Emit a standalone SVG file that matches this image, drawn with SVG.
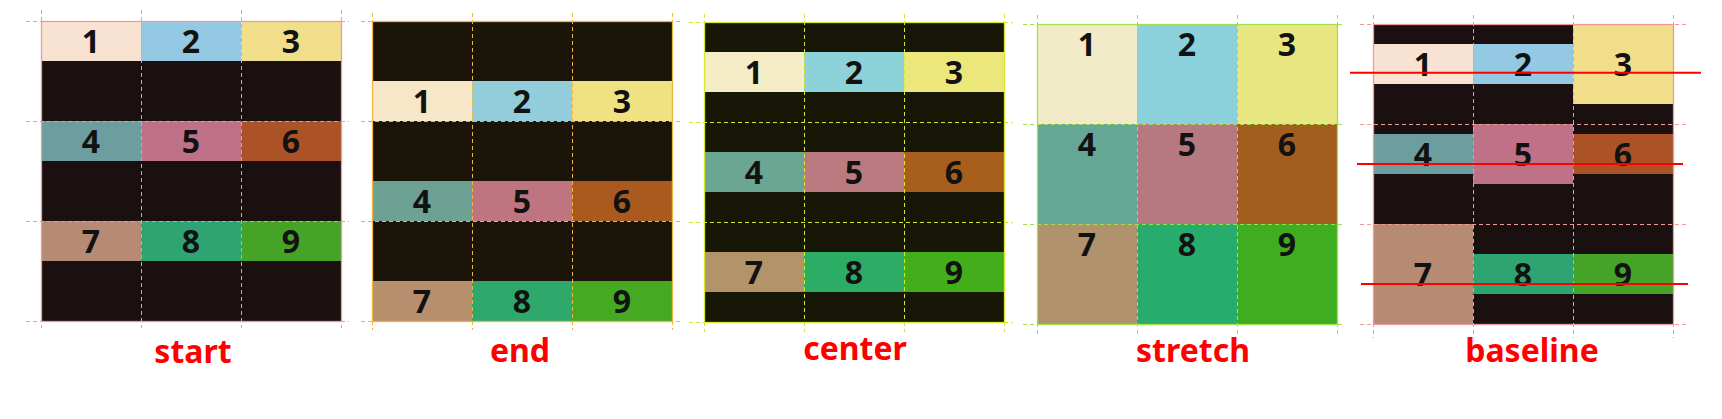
<svg xmlns="http://www.w3.org/2000/svg" width="1722" height="419" viewBox="0 0 1722 419">
<style>
.num{font-family:"Noto Sans","Open Sans","DejaVu Sans",sans-serif;font-weight:700;font-size:32px;fill:#121212;text-anchor:middle}
.lbl{font-family:"Noto Sans","Open Sans","DejaVu Sans",sans-serif;font-weight:700;font-size:32px;fill:#ff0000;text-anchor:middle}
.gl{fill:none;stroke-width:1;stroke-dasharray:4 3}
.bd{fill:none;stroke-width:1.3}
.pink{stroke:#ee9a9a}
.orange{stroke:#f2b440}
.ylw{stroke:#d4e830}
.grn{stroke:#a0e050}
.base{stroke:#ff0000;stroke-width:2}
</style>
<rect width="1722" height="419" fill="#ffffff"/>

<!-- start -->
<g id="panel-start">
<rect x="41" y="21" width="300" height="300" fill="#1a1010"/>
<g id="start-1"><rect x="41" y="21" width="100" height="40" fill="#f8e3d2"/><text class="num" x="91" y="53">1</text></g>
<g id="start-2"><rect x="141" y="21" width="100" height="40" fill="#93c9e3"/><text class="num" x="191" y="53">2</text></g>
<g id="start-3"><rect x="241" y="21" width="100" height="40" fill="#f0de8a"/><text class="num" x="291" y="53">3</text></g>
<g id="start-4"><rect x="41" y="121" width="100" height="40" fill="#6d9e9f"/><text class="num" x="91" y="153">4</text></g>
<g id="start-5"><rect x="141" y="121" width="100" height="40" fill="#bf7188"/><text class="num" x="191" y="153">5</text></g>
<g id="start-6"><rect x="241" y="121" width="100" height="40" fill="#ab5327"/><text class="num" x="291" y="153">6</text></g>
<g id="start-7"><rect x="41" y="221" width="100" height="40" fill="#b78a74"/><text class="num" x="91" y="253">7</text></g>
<g id="start-8"><rect x="141" y="221" width="100" height="40" fill="#2fa473"/><text class="num" x="191" y="253">8</text></g>
<g id="start-9"><rect x="241" y="221" width="100" height="40" fill="#45a327"/><text class="num" x="291" y="253">9</text></g>
<path class="gl pink" d="M26 21.5H349M26 121.5H349M26 221.5H349M26 321.5H349M41.5 10V328M141.5 10V328M241.5 10V328M341.5 10V328"/>
<rect class="bd pink" x="41.5" y="21.5" width="300" height="300"/>
<text class="lbl" x="193" y="363">start</text>
</g>

<!-- end -->
<g id="panel-end">
<rect x="372" y="21" width="300" height="300" fill="#1a1508"/>
<g id="end-1"><rect x="372" y="81" width="100" height="40" fill="#f8e6c9"/><text class="num" x="422" y="113">1</text></g>
<g id="end-2"><rect x="472" y="81" width="100" height="40" fill="#93ccda"/><text class="num" x="522" y="113">2</text></g>
<g id="end-3"><rect x="572" y="81" width="100" height="40" fill="#f0e182"/><text class="num" x="622" y="113">3</text></g>
<g id="end-4"><rect x="372" y="181" width="100" height="40" fill="#6da193"/><text class="num" x="422" y="213">4</text></g>
<g id="end-5"><rect x="472" y="181" width="100" height="40" fill="#bf7580"/><text class="num" x="522" y="213">5</text></g>
<g id="end-6"><rect x="572" y="181" width="100" height="40" fill="#ab5a1f"/><text class="num" x="622" y="213">6</text></g>
<g id="end-7"><rect x="372" y="281" width="100" height="40" fill="#b78f6d"/><text class="num" x="422" y="313">7</text></g>
<g id="end-8"><rect x="472" y="281" width="100" height="40" fill="#2fa96b"/><text class="num" x="522" y="313">8</text></g>
<g id="end-9"><rect x="572" y="281" width="100" height="40" fill="#45a921"/><text class="num" x="622" y="313">9</text></g>
<path class="gl orange" d="M361 21.5H681M361 121.5H681M361 221.5H681M361 321.5H681M372.5 13V330M472.5 13V330M572.5 13V330M672.5 13V330"/>
<rect class="bd orange" x="372.5" y="21.5" width="300" height="300"/>
<text class="lbl" x="520" y="362">end</text>
</g>

<!-- center -->
<g id="panel-center">
<rect x="704" y="22" width="300" height="300" fill="#161706"/>
<g id="center-1"><rect x="704" y="52" width="100" height="40" fill="#f4edc6"/><text class="num" x="754" y="84">1</text></g>
<g id="center-2"><rect x="804" y="52" width="100" height="40" fill="#8dd2d8"/><text class="num" x="854" y="84">2</text></g>
<g id="center-3"><rect x="904" y="52" width="100" height="40" fill="#ebe77b"/><text class="num" x="954" y="84">3</text></g>
<g id="center-4"><rect x="704" y="152" width="100" height="40" fill="#6aa692"/><text class="num" x="754" y="184">4</text></g>
<g id="center-5"><rect x="804" y="152" width="100" height="40" fill="#bb7a80"/><text class="num" x="854" y="184">5</text></g>
<g id="center-6"><rect x="904" y="152" width="100" height="40" fill="#a85e1c"/><text class="num" x="954" y="184">6</text></g>
<g id="center-7"><rect x="704" y="252" width="100" height="40" fill="#b3946a"/><text class="num" x="754" y="284">7</text></g>
<g id="center-8"><rect x="804" y="252" width="100" height="40" fill="#2cad66"/><text class="num" x="854" y="284">8</text></g>
<g id="center-9"><rect x="904" y="252" width="100" height="40" fill="#43ad1c"/><text class="num" x="954" y="284">9</text></g>
<path class="gl ylw" d="M689 22.5H1013M689 122.5H1013M689 222.5H1013M689 322.5H1013M704.5 14V332M804.5 14V332M904.5 14V332M1004.5 14V332"/>
<rect class="bd ylw" x="704.5" y="22.5" width="300" height="300"/>
<text class="lbl" x="855" y="360">center</text>
</g>

<!-- stretch -->
<g id="panel-stretch">
<g id="stretch-1"><rect x="1037" y="24" width="100" height="100" fill="#f1ebc9"/><text class="num" x="1087" y="56">1</text></g>
<g id="stretch-2"><rect x="1137" y="24" width="100" height="100" fill="#8bd0da"/><text class="num" x="1187" y="56">2</text></g>
<g id="stretch-3"><rect x="1237" y="24" width="100" height="100" fill="#e8e680"/><text class="num" x="1287" y="56">3</text></g>
<g id="stretch-4"><rect x="1037" y="124" width="100" height="100" fill="#66a694"/><text class="num" x="1087" y="156">4</text></g>
<g id="stretch-5"><rect x="1137" y="124" width="100" height="100" fill="#b67982"/><text class="num" x="1187" y="156">5</text></g>
<g id="stretch-6"><rect x="1237" y="124" width="100" height="100" fill="#a25d1f"/><text class="num" x="1287" y="156">6</text></g>
<g id="stretch-7"><rect x="1037" y="224" width="100" height="100" fill="#b0926c"/><text class="num" x="1087" y="256">7</text></g>
<g id="stretch-8"><rect x="1137" y="224" width="100" height="100" fill="#28ac6b"/><text class="num" x="1187" y="256">8</text></g>
<g id="stretch-9"><rect x="1237" y="224" width="100" height="100" fill="#3fad20"/><text class="num" x="1287" y="256">9</text></g>
<path class="gl grn" d="M1023 24.5H1345M1023 124.5H1345M1023 224.5H1345M1023 324.5H1345M1037.5 15V337M1137.5 15V337M1237.5 15V337M1337.5 15V337"/>
<rect class="bd grn" x="1037.5" y="24.5" width="300" height="300"/>
<text class="lbl" x="1193" y="362">stretch</text>
</g>

<!-- baseline -->
<g id="panel-baseline">
<rect x="1373" y="24" width="300" height="300" fill="#1a1010"/>
<g id="baseline-1"><rect x="1373" y="44" width="100" height="40" fill="#f8e3d2"/><text class="num" x="1423" y="76">1</text></g>
<g id="baseline-2"><rect x="1473" y="44" width="100" height="40" fill="#93c9e3"/><text class="num" x="1523" y="76">2</text></g>
<g id="baseline-3"><rect x="1573" y="24" width="100" height="80" fill="#f0de8a"/><text class="num" x="1623" y="76">3</text></g>
<g id="baseline-4"><rect x="1373" y="134" width="100" height="40" fill="#6d9e9f"/><text class="num" x="1423" y="166">4</text></g>
<g id="baseline-5"><rect x="1473" y="124" width="100" height="60" fill="#bf7188"/><text class="num" x="1523" y="166">5</text></g>
<g id="baseline-6"><rect x="1573" y="134" width="100" height="40" fill="#ab5327"/><text class="num" x="1623" y="166">6</text></g>
<g id="baseline-7"><rect x="1373" y="224" width="100" height="100" fill="#b78a74"/><text class="num" x="1423" y="286">7</text></g>
<g id="baseline-8"><rect x="1473" y="254" width="100" height="40" fill="#2fa473"/><text class="num" x="1523" y="286">8</text></g>
<g id="baseline-9"><rect x="1573" y="254" width="100" height="40" fill="#45a327"/><text class="num" x="1623" y="286">9</text></g>
<path class="gl pink" d="M1360 24.5H1687M1360 124.5H1687M1360 224.5H1687M1360 324.5H1687M1373.5 15V338M1473.5 15V338M1573.5 15V338M1673.5 15V338"/>
<rect class="bd pink" x="1373.5" y="24.5" width="300" height="300"/>
<text class="lbl" x="1532" y="362">baseline</text>
</g>

<g id="connectors">
<line class="base" x1="1350" y1="72.7" x2="1701" y2="72.7"/>
<line class="base" x1="1357" y1="164" x2="1683" y2="164"/>
<line class="base" x1="1361" y1="284" x2="1688" y2="284"/>
</g>
</svg>
